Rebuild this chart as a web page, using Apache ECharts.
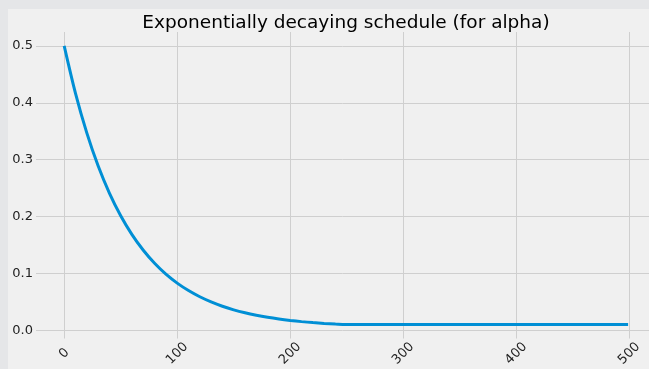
<!DOCTYPE html>
<html><head><meta charset="utf-8">
<script src="https://cdn.jsdelivr.net/npm/echarts@6/dist/echarts.min.js"></script>
<style>html,body{margin:0;padding:0;background:#e5e6e8;}#c{width:649px;height:369px;}</style>
</head><body><div id="c"></div>
<script>
const titleText = 'Exponentially decaying schedule (for alpha)';
const steps = [0,10,20,30,40,50,60,70,80,90,100,110,120,130,140,150,160,170,180,190,200,210,220,230,240,249,499];
const alpha = [0.5,0.4165,0.3471,0.2892,0.2413,0.2014,0.1682,0.1407,0.1178,0.0987,0.0829,0.0698,0.0589,0.0498,0.0422,0.0359,0.0307,0.0264,0.0228,0.0198,0.0173,0.0152,0.0135,0.0121,0.0109,0.01,0.01];
const xTicks = [0,100,200,300,400,500];
const yTicks = [0,0.1,0.2,0.3,0.4,0.5];

const chart = echarts.init(document.getElementById('c'), null, {renderer:'canvas'});
const font = 'DejaVu Sans';
chart.setOption({
  animation:false,
  backgroundColor:'#e5e6e8',
  graphic:[{type:'rect', z:-10, shape:{x:8,y:9,width:641,height:360}, style:{fill:'#f0f0f0'}}],
  title:{text:titleText, left:341, textAlign:'center', top:9,
    textStyle:{fontFamily:font, fontSize:18.5, fontWeight:'normal', color:'#000'}},
  grid:{left:36, top:32, right:0, height:308, containLabel:false},
  xAxis:{type:'value', min:-24.95, max:517.5,
    axisLine:{show:false},
    axisTick:{show:false, customValues:xTicks},
    splitLine:{show:true, lineStyle:{color:'#cfcfcf', width:1}},
    axisLabel:{rotate:45, align:'center', verticalAlign:'middle', margin:15,
      fontFamily:font, fontSize:13, color:'#222',
      customValues: xTicks, formatter: v => String(v)}
  },
  yAxis:{type:'value', min:-0.0145, max:0.5245,
    axisLine:{show:false},
    axisTick:{show:false, customValues:yTicks},
    splitLine:{show:true, lineStyle:{color:'#cfcfcf', width:1}},
    axisLabel:{fontFamily:font, fontSize:13, color:'#222', margin:3,
      customValues:yTicks, formatter: v => v.toFixed(1)}
  },
  series:[{type:'line', data: steps.map((s,i)=>[s, alpha[i]]), showSymbol:false, smooth:0.3,
    lineStyle:{color:'#008fd5', width:3}, itemStyle:{color:'#008fd5'}}]
});
</script></body></html>
